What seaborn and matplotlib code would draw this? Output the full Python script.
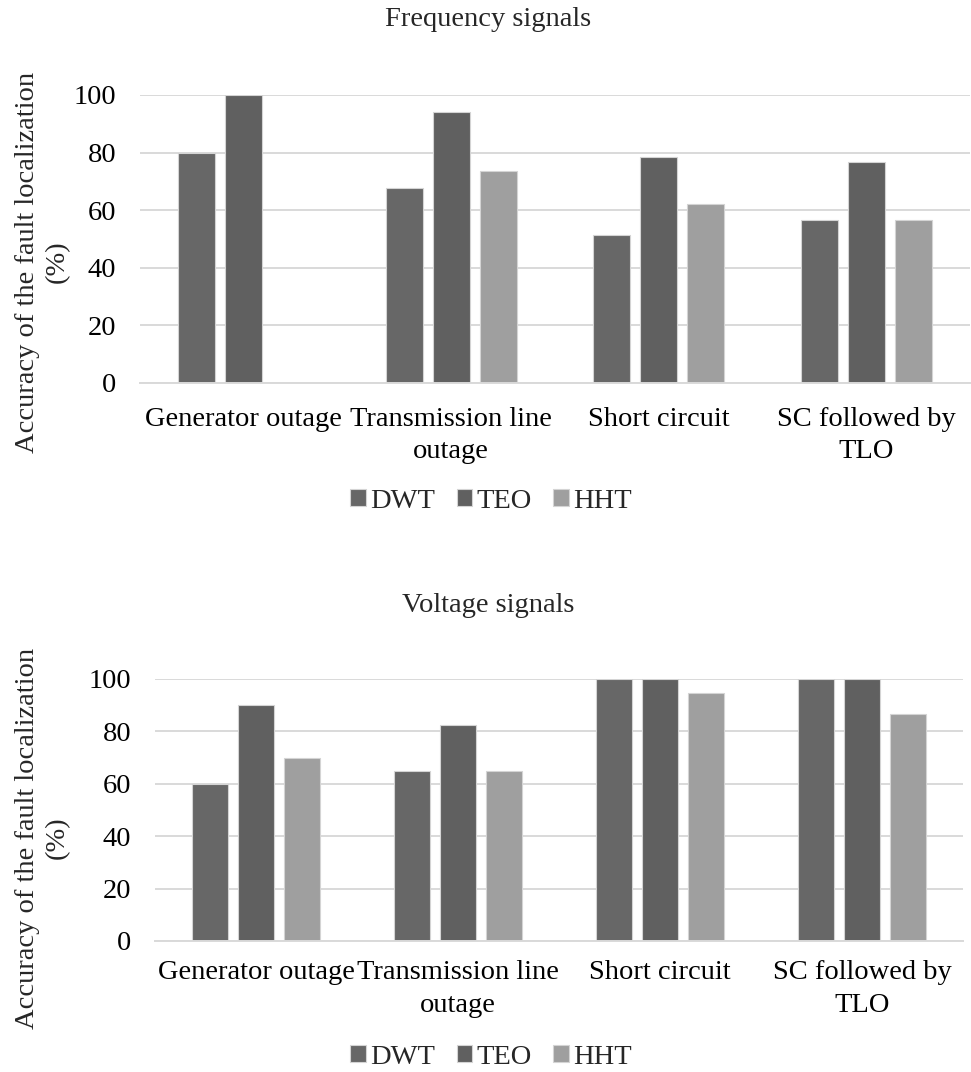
import matplotlib
matplotlib.use("Agg")
import matplotlib.pyplot as plt
import seaborn as sns
import pandas as pd
import numpy as np

categories = ["Generator outage", "Transmission line\noutage", "Short circuit", "SC followed by\nTLO"]
methods = ["DWT", "TEO", "HHT"]

freq_dwt = [80.0, 67.6, 51.4, 56.7]
freq_teo = [100.0, 94.1, 78.4, 76.7]
freq_hht = [0.0, 73.5, 62.2, 56.7]

volt_dwt = [60.0, 64.7, 100.0, 100.0]
volt_teo = [90.0, 82.4, 100.0, 100.0]
volt_hht = [70.0, 64.7, 94.5, 86.7]

yticks = [0, 20, 40, 60, 80, 100]
titles = ["Frequency signals", "Voltage signals"]
ylabel = "Accuracy of the fault localization\n(%)"
colors = ["#676767", "#606060", "#9f9f9f"]

def make_df(d, t, h):
    rows = []
    for cat, a, b, c in zip(categories, d, t, h):
        rows += [(cat, "DWT", a), (cat, "TEO", b), (cat, "HHT", c)]
    return pd.DataFrame(rows, columns=["cat", "method", "value"])

sns.set_theme(style="white")
plt.rcParams["font.family"] = ["Liberation Serif", "DejaVu Serif"]

W, H = 971, 1072
fig = plt.figure(figsize=(W / 100, H / 100), dpi=100)

FS = 20.5

panels = [
    dict(df=make_df(freq_dwt, freq_teo, freq_hht), rect=[140, 95, 970, 383],
         title_y=19, ylab_y=262, pad=17, leg_y=501),
    dict(df=make_df(volt_dwt, volt_teo, volt_hht), rect=[155, 679, 963, 941],
         title_y=605, ylab_y=838, pad=14, leg_y=1057),
]

for p, title in zip(panels, titles):
    x0, y0, x1, y1 = p["rect"]
    ax = fig.add_axes([x0 / W, 1 - y1 / H, (x1 - x0) / W, (y1 - y0) / H])
    sns.barplot(data=p["df"], x="cat", y="value", hue="method", order=categories,
                hue_order=methods, palette=colors, width=0.68, gap=0.21,
                edgecolor="#d4d4d4", linewidth=0.8, errorbar=None, ax=ax,
                legend=True, saturation=1)
    ax.set_ylim(0, 100)
    ax.set_xlim(-0.5, 3.5)
    ax.set_yticks(yticks)
    ax.yaxis.grid(True, color="#d9d9d9", linewidth=1.4)
    ax.set_axisbelow(True)
    for s in ["top", "right", "left"]:
        ax.spines[s].set_visible(False)
    ax.spines["bottom"].set_color("#d9d9d9")
    ax.spines["bottom"].set_linewidth(1.4)
    ax.tick_params(axis="both", length=0, labelsize=FS, colors="black")
    ax.tick_params(axis="x", pad=p["pad"])
    ax.tick_params(axis="y", pad=17)
    ax.set_xlabel("")
    ax.set_ylabel("")
    for lab in ax.get_xticklabels():
        lab.set_fontsize(FS)
        lab.set_linespacing(1.4)
    handles, labels = ax.get_legend_handles_labels()
    ax.get_legend().remove()
    fig.legend(handles, labels, loc="center", bbox_to_anchor=(491 / W, 1 - p["leg_y"] / H),
               ncol=3, frameon=False, fontsize=FS, handlelength=0.55, handleheight=0.55,
               handletextpad=0.15, columnspacing=0.75, borderpad=0)
    fig.text(488 / W, 1 - p["title_y"] / H, title, ha="center", va="center", fontsize=FS)
    fig.text(42 / W, 1 - p["ylab_y"] / H, ylabel, ha="center", va="center",
             rotation=90, fontsize=FS, linespacing=1.25)

fig.savefig("out.png", dpi=100)
